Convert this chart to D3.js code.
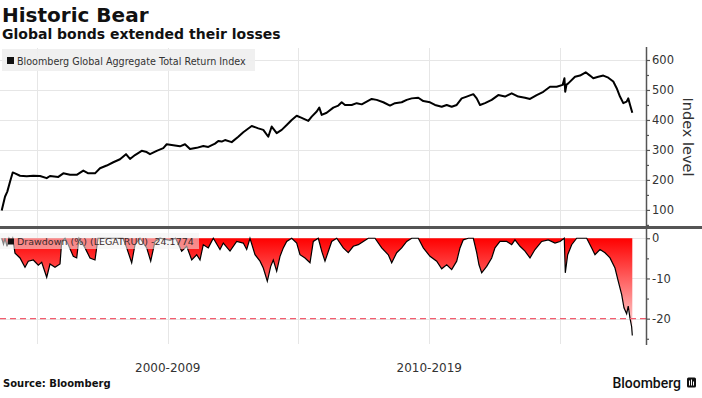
<!DOCTYPE html>
<html>
<head>
<meta charset="utf-8">
<script src="https://cdn.jsdelivr.net/npm/d3@7"></script>
<style>
    body { margin: 0; background: #fff; }
    svg { display: block; }
</style>
</head>
<body>
<svg id="chart" width="702" height="398"></svg>
<script>
// index level (decimal years)
const idxYears = [1998.650, 1998.776, 1998.864, 1998.968, 1999.071, 1999.159, 1999.350, 1999.606, 1999.859,
    2000.115, 2000.371, 2000.497, 2000.815, 2001.006, 2001.262, 2001.518, 2001.771, 2001.962,
    2002.218, 2002.409, 2002.665, 2002.918, 2003.174, 2003.403, 2003.556, 2003.748,
    2004.004, 2004.195, 2004.321, 2004.577, 2004.830, 2004.960, 2005.212, 2005.468, 2005.660, 2005.851,
    2006.107, 2006.359, 2006.551, 2006.807, 2006.933, 2007.063, 2007.190, 2007.446, 2007.698, 2007.889,
    2008.210, 2008.463, 2008.654, 2008.845, 2008.975, 2009.166, 2009.358, 2009.549, 2009.740, 2009.931,
    2010.122, 2010.375, 2010.505, 2010.696, 2010.795, 2010.887, 2011.078, 2011.331, 2011.522, 2011.652, 2011.778,
    2012.034, 2012.226, 2012.417, 2012.608, 2012.799, 2012.990, 2013.243, 2013.499, 2013.690, 2013.946,
    2014.138, 2014.329, 2014.581, 2014.773, 2015.029, 2015.220, 2015.476, 2015.667, 2015.858,
    2016.050, 2016.241, 2016.432, 2016.685, 2016.815, 2016.941, 2017.132, 2017.388, 2017.640, 2017.897,
    2018.153, 2018.405, 2018.661, 2018.853, 2019.109, 2019.361, 2019.618, 2019.874,
    2020.103, 2020.170, 2020.200, 2020.250, 2020.317, 2020.574, 2020.765, 2020.983,
    2021.147, 2021.273, 2021.465, 2021.656, 2021.847, 2022.038, 2022.168, 2022.294, 2022.421,
    2022.549, 2022.610, 2022.680, 2022.765];
const idxValues = [98, 144, 161, 194, 225, 222, 214, 212, 214,
    213, 206, 213, 210, 222, 217, 217, 231, 222,
    222, 239, 248, 259, 269, 286, 270, 283,
    297, 293, 286, 297, 306, 319, 316, 312, 319, 303,
    307, 313, 310, 321, 330, 328, 333, 326, 344, 359,
    380, 372, 367, 344, 378, 356, 367, 383, 400, 414,
    407, 397, 411, 428, 441, 417, 424, 441, 448, 459, 450,
    450, 456, 452, 461, 470, 467, 459, 448, 456, 459,
    467, 472, 474, 463, 459, 450, 444, 450, 444,
    450, 472, 478, 486, 472, 450, 456, 467, 483, 478,
    489, 478, 474, 470, 483, 494, 511, 511,
    517, 539, 494, 518, 522, 544, 548, 559,
    548, 539, 544, 548, 541, 528, 506, 478, 456,
    461, 472, 450, 424];

// drawdown from peak, %
const ddYears = [1998.650, 1998.719, 1998.776, 1998.853, 1998.929, 1999.006, 1999.071, 1999.159, 1999.350,
    1999.541, 1999.667, 1999.859, 2000.050, 2000.180, 2000.371, 2000.497, 2000.688, 2000.880, 2000.945,
    2001.071, 2001.197, 2001.388, 2001.518, 2001.606, 2001.836, 2002.027, 2002.218, 2002.333, 2002.677,
    2002.983, 2003.289, 2003.430, 2003.621, 2003.748, 2003.939, 2004.195, 2004.348, 2004.512, 2004.704,
    2005.086, 2005.300, 2005.533, 2005.725, 2005.916, 2006.107, 2006.233, 2006.359, 2006.551, 2006.742,
    2006.998, 2007.124, 2007.381, 2007.637, 2007.889, 2008.019, 2008.145, 2008.337, 2008.528, 2008.654,
    2008.807, 2008.937, 2009.036, 2009.166, 2009.293, 2009.419, 2009.549, 2009.740, 2009.931,
    2010.057, 2010.249, 2010.440, 2010.566, 2010.757, 2010.887, 2011.013, 2011.270, 2011.461, 2011.713,
    2011.904, 2012.096, 2012.287, 2012.478, 2012.669, 2012.925, 2013.182, 2013.434, 2013.564, 2013.755,
    2013.946, 2014.138, 2014.329, 2014.581, 2014.773, 2015.029, 2015.285, 2015.476, 2015.667, 2015.858,
    2016.050, 2016.176, 2016.302, 2016.493, 2016.685, 2016.815, 2016.902, 2017.006, 2017.197, 2017.388,
    2017.514, 2017.706, 2017.962, 2018.153, 2018.279, 2018.470, 2018.661, 2018.853, 2019.044, 2019.300,
    2019.553, 2019.809, 2020.000, 2020.164, 2020.203, 2020.294, 2020.447, 2020.638, 2020.891, 2021.021,
    2021.212, 2021.338, 2021.530, 2021.721, 2021.912, 2022.103, 2022.229, 2022.359, 2022.447, 2022.549,
    2022.610, 2022.675, 2022.740, 2022.765];
const ddValues = [0, -1.5, 0, -2, 0, -1, 0, -3.7, -4.9,
    -7.2, -5.7, -5.4, -6.7, -6.0, -9.7, -6.4, -7.2, -6.4, -0.8,
    0, -1.6, -4.5, -4.9, 0, -2.4, -4.9, -5.4, 0, 0,
    0, 0, -2.4, -6.1, -1.6, 0, -2.4, -5.7, -0.8, 0,
    -0.5, 0, -3.2, -2.0, -5.4, -4.1, -5.4, -1.6, -2.4, 0,
    -2.8, -1.2, -3.2, -0.8, -1.2, -2.8, 0, -4.1, -5.7, -7.4,
    -10.7, -7.0, -5.4, -8.2, -4.5, -2.4, -0.8, 0, -1.2,
    -4.1, -4.9, -6.1, -0.8, 0, -3.2, -5.7, -0.8, 0, -2.4,
    -3.6, -2.0, -1.6, -0.8, 0, 0, -2.4, -4.1, -6.1, -3.6,
    -2.4, -0.8, 0, 0, -2.4, -4.5, -5.7, -7.6, -6.6, -7.8,
    -5.7, -2.4, -0.4, 0, 0, -3.6, -6.6, -8.6, -7.0, -4.9,
    -2.4, -0.8, -0.8, -1.6, -0.4, -2.0, -3.2, -4.9, -2.8, -0.8,
    -0.4, -1.2, -0.8, 0, -8.6, -4.1, -1.6, 0, 0, 0,
    -2.4, -4.1, -2.8, -3.6, -4.9, -7.4, -10.7, -14, -17.3, -18.8,
    -16.9, -19.8, -22, -24.1774];

const idxTicks = [100, 200, 300, 400, 500, 600];
const idxMinor = [50, 150, 250, 350, 450, 550];
const ddTicks = [0, -10, -20];
const ddMinor = [-5, -15, -25];
const gridYears = [2000, 2005, 2010, 2015, 2020];
const decadeLabels = ["2000-2009", "2010-2019"];
const decadeMid = [2005, 2015];
const bearLine = -20;

let svg = d3.select("#chart");
let plotRight = 646;

let x = d3.scaleLinear().domain([1998.585, 2023.289]).range([0, plotRight]);
let yTop = d3.scaleLinear().domain([43, 640]).range([227, 48]);
let yBot = d3.scaleLinear().domain([2.3, -26.3]).range([229, 344]);

let idxData = idxYears.map((t, i) => ({t: t, v: idxValues[i]}));
let ddData = ddYears.map((t, i) => ({t: t, v: ddValues[i]}));

//gradient for the drawdown fill
let grad = svg.append("defs").append("linearGradient")
    .attr("id", "ddFill")
    .attr("gradientUnits", "userSpaceOnUse")
    .attr("x1", 0).attr("x2", 0)
    .attr("y1", yBot(0)).attr("y2", yBot(-24));
grad.append("stop").attr("offset", "0%").attr("stop-color", "#ff0000");
grad.append("stop").attr("offset", "100%").attr("stop-color", "#ffe4e4");

//titles
svg.append("text").attr("x", 2).attr("y", 22)
    .style("font", "bold 20px 'DejaVu Sans'").attr("fill", "#111").text("Historic Bear");
svg.append("text").attr("x", 2).attr("y", 39)
    .style("font", "bold 14px 'DejaVu Sans'").attr("fill", "#111").text("Global bonds extended their losses");

//grid
let grid = svg.append("g").attr("stroke", "#e6e6e6").attr("stroke-width", 1);
grid.selectAll(".hg").data(idxTicks).enter().append("line")
    .attr("x1", 0).attr("x2", plotRight)
    .attr("y1", d => Math.round(yTop(d)) + 0.5).attr("y2", d => Math.round(yTop(d)) + 0.5);
grid.selectAll(".hb").data(ddTicks).enter().append("line")
    .attr("x1", 0).attr("x2", plotRight)
    .attr("y1", d => Math.round(yBot(d)) + 0.5).attr("y2", d => Math.round(yBot(d)) + 0.5);
grid.selectAll(".vg").data(gridYears).enter().append("line")
    .attr("x1", d => Math.round(x(d)) + 0.5).attr("x2", d => Math.round(x(d)) + 0.5)
    .attr("y1", 48).attr("y2", 344);

//index line
let idxLine = d3.line().x(d => x(d.t)).y(d => yTop(d.v));
svg.append("path").datum(idxData)
    .attr("d", idxLine)
    .attr("fill", "none").attr("stroke", "#000").attr("stroke-width", 2)
    .attr("stroke-linejoin", "round");

//drawdown
let ddArea = d3.area().x(d => x(d.t)).y0(yBot(0)).y1(d => yBot(d.v));
let ddLine = d3.line().x(d => x(d.t)).y(d => yBot(d.v));
svg.append("path").datum(ddData).attr("d", ddArea).attr("fill", "url(#ddFill)");
svg.append("path").datum(ddData).attr("d", ddLine)
    .attr("fill", "none").attr("stroke", "#000").attr("stroke-width", 1.2);

svg.append("line")
    .attr("x1", 0).attr("x2", plotRight)
    .attr("y1", yBot(bearLine)).attr("y2", yBot(bearLine))
    .attr("stroke", "#f25c6e").attr("stroke-width", 1.3).attr("stroke-dasharray", "6,4");

//legends
svg.append("rect").attr("x", 2).attr("y", 49).attr("width", 253).attr("height", 22)
    .attr("fill", "#eeeeee").attr("opacity", 0.9);
svg.append("rect").attr("x", 7).attr("y", 57).attr("width", 7).attr("height", 7).attr("fill", "#111");
svg.append("text").attr("x", 17).attr("y", 64.5)
    .style("font", "9.6px 'DejaVu Sans'").attr("fill", "#333")
    .text("Bloomberg Global Aggregate Total Return Index");

svg.append("rect").attr("x", 0).attr("y", 233).attr("width", 199).attr("height", 16)
    .attr("fill", "#f0f0f0").attr("opacity", 0.55);
svg.append("rect").attr("x", 8).attr("y", 238.5).attr("width", 6).attr("height", 6).attr("fill", "#111");
svg.append("text").attr("x", 17).attr("y", 245)
    .style("font", "9.5px 'DejaVu Sans'").attr("fill", "#3a2a2a")
    .text("Drawdown (%) (LEGATRUU) " + ddValues[ddValues.length - 1].toFixed(4));

//separator between panels
svg.append("line").attr("x1", 0).attr("x2", 702).attr("y1", 227.5).attr("y2", 227.5)
    .attr("stroke", "#555").attr("stroke-width", 3);

//right axes
function styleAxis(g) {
    g.select(".domain").remove();
    g.selectAll(".tick line").attr("stroke", "#555").attr("stroke-width", 1.2);
    g.selectAll(".tick text").attr("fill", "#333")
        .style("font", "11.5px 'DejaVu Sans'");
}

let topAxis = svg.append("g").attr("transform", `translate(${plotRight},0)`)
    .call(d3.axisRight(yTop).tickValues(idxTicks).tickSize(4).tickPadding(2).tickFormat(d => String(d)));
styleAxis(topAxis);
let topMinor = svg.append("g").attr("transform", `translate(${plotRight},0)`)
    .call(d3.axisRight(yTop).tickValues(idxMinor).tickSize(3).tickFormat(""));
styleAxis(topMinor);

let botAxis = svg.append("g").attr("transform", `translate(${plotRight},0)`)
    .call(d3.axisRight(yBot).tickValues(ddTicks).tickSize(4).tickPadding(2).tickFormat(d => String(d)));
styleAxis(botAxis);
let botMinor = svg.append("g").attr("transform", `translate(${plotRight},0)`)
    .call(d3.axisRight(yBot).tickValues(ddMinor).tickSize(3).tickFormat(""));
styleAxis(botMinor);

svg.append("line").attr("x1", plotRight + 0.5).attr("x2", plotRight + 0.5).attr("y1", 47).attr("y2", 345)
    .attr("stroke", "#555").attr("stroke-width", 1.5);

svg.append("text")
    .attr("transform", "translate(683,137) rotate(90)")
    .attr("text-anchor", "middle")
    .style("font", "14.5px 'DejaVu Sans'").attr("fill", "#333")
    .text("Index level");

//decade labels
svg.selectAll(".decade").data(decadeLabels).enter().append("text")
    .attr("x", (d, i) => x(decadeMid[i])).attr("y", 372)
    .attr("text-anchor", "middle")
    .style("font", "12px 'DejaVu Sans'").attr("fill", "#333")
    .text(d => d);

//footer
svg.append("text").attr("x", 3).attr("y", 387)
    .style("font", "bold 10px 'DejaVu Sans'").attr("fill", "#111").text("Source: Bloomberg");
svg.append("text").attr("x", 681).attr("y", 388).attr("text-anchor", "end")
    .style("font", "500 14px Roboto").attr("fill", "#111").text("Bloomberg");
let logo = svg.append("g").attr("transform", "translate(687,377.5)");
logo.append("rect").attr("width", 9).attr("height", 10).attr("rx", 1.5).attr("fill", "#111");
[2, 4, 6].forEach((bx, i) => {
    logo.append("rect").attr("x", bx).attr("y", [3, 2, 4][i]).attr("width", 1)
        .attr("height", [5, 6, 4][i]).attr("fill", "#fff");
});
</script>
</body>
</html>
